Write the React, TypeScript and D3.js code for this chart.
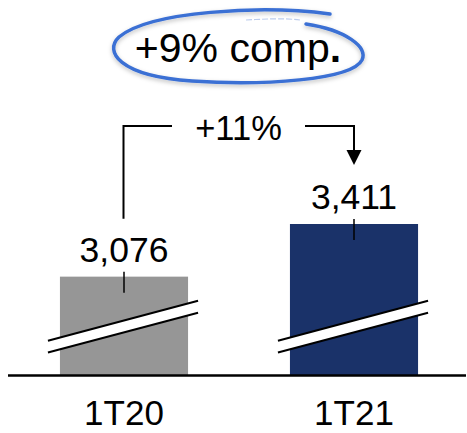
import React from "react";
import * as d3 from "d3";

const categories = ["1T20", "1T21"];
const values = [3076, 3411];
const valueLabels = ["3,076", "3,411"];
const barColors = ["#969696", "#1a3269"];
const growthLabel = "+11%";
const headline = "+9% comp";

const W = 467;
const H = 433;
const baseY = 375;
const FONT = "'Liberation Sans', Arial, sans-serif";

export default function App() {
  const x = d3
    .scaleBand<string>()
    .domain(categories)
    .range([9, 469])
    .paddingInner(0.443)
    .paddingOuter(0.2215);

  // truncated value axis (broken bars)
  const y = d3.scaleLinear().domain([2450, 3411]).range([baseY, 224]);

  const bw = x.bandwidth();
  const cx = (c: string) => (x(c) ?? 0) + bw / 2;

  const bracketY = 126;
  const leftX = cx(categories[0]);
  const rightX = cx(categories[1]);
  const leftTop = y(values[0]);
  const rightTop = y(values[1]);

  const ellipse =
    "M 330 14 C 262 5, 150 11, 119 37 C 104 51, 118 76, 192 81 C 262 86, 352 80, 362 60 C 368 47, 346 30, 306 24";

  return (
    <svg width={W} height={H} style={{ position: "absolute", left: 0, top: 0 }}>
      <defs>
        <filter id="soft" x="-10%" y="-20%" width="120%" height="150%">
          <feDropShadow dx="0" dy="2" stdDeviation="2" floodColor="#000" floodOpacity="0.25" />
        </filter>
      </defs>
      <rect width={W} height={H} fill="#fff" />

      {/* headline with hand-drawn ring */}
      <path
        d="M 246 20 C 265 19, 285 18, 300 20"
        fill="none"
        stroke="#9fb8e6"
        strokeWidth={1.2}
        strokeDasharray="6 2"
        opacity={0.7}
      />
      <path
        d={ellipse}
        fill="none"
        stroke="#3a6fd4"
        strokeWidth={3.5}
        strokeLinecap="round"
        filter="url(#soft)"
      />
      <text
        x={238}
        y={62}
        textAnchor="middle"
        fontFamily={FONT}
        fontSize={41}
        fill="#000"
      >
        {headline}
        <tspan fontWeight="bold">.</tspan>
      </text>

      {/* bars */}
      {categories.map((c, i) => (
        <rect
          key={c}
          x={x(c)}
          y={y(values[i])}
          width={bw}
          height={baseY - y(values[i])}
          fill={barColors[i]}
        />
      ))}

      {/* axis break marks */}
      {categories.map((c) => {
        const x0 = (x(c) ?? 0) - 12;
        const x1 = (x(c) ?? 0) + bw + 10;
        const uL = 340.7, uR = 300.7, lL = 352.5, lR = 312.7;
        return (
          <g key={"b" + c}>
            <polygon points={`${x0},${uL} ${x1},${uR} ${x1},${lR} ${x0},${lL}`} fill="#fff" />
            <line x1={x0} y1={uL} x2={x1} y2={uR} stroke="#000" strokeWidth={2} />
            <line x1={x0} y1={lL} x2={x1} y2={lR} stroke="#000" strokeWidth={2} />
          </g>
        );
      })}

      {/* baseline */}
      <line x1={8} x2={466} y1={baseY + 0.5} y2={baseY + 0.5} stroke="#000" strokeWidth={2.5} />

      {/* value labels and leaders */}
      {categories.map((c, i) => {
        const top = y(values[i]);
        return (
          <g key={"v" + c}>
            <text
              x={cx(c)}
              y={top - 15}
              textAnchor="middle"
              fontFamily={FONT}
              fontSize={35.5}
              fill="#000"
            >
              {valueLabels[i]}
            </text>
            <line x1={cx(c)} x2={cx(c)} y1={top - 5} y2={top + 16} stroke="#000" strokeWidth={1.5} />
          </g>
        );
      })}

      {/* category labels */}
      {categories.map((c) => (
        <text
          key={"c" + c}
          x={cx(c)}
          y={425}
          textAnchor="middle"
          fontFamily={FONT}
          fontSize={35}
          fill="#000"
        >
          {c}
        </text>
      ))}

      {/* growth bracket */}
      <path
        d={`M ${leftX - 0.5} ${leftTop - 58} V ${bracketY} H 172`}
        fill="none"
        stroke="#000"
        strokeWidth={2}
      />
      <path
        d={`M 305 ${bracketY} H ${rightX} V ${rightTop - 74}`}
        fill="none"
        stroke="#000"
        strokeWidth={2}
      />
      <polygon
        points={`${rightX - 7.5},${rightTop - 74} ${rightX + 7.5},${rightTop - 74} ${rightX},${rightTop - 59}`}
        fill="#000"
      />
      <text
        x={238.5}
        y={140}
        textAnchor="middle"
        fontFamily={FONT}
        fontSize={34.5}
        fill="#000"
      >
        {growthLabel}
      </text>
    </svg>
  );
}
